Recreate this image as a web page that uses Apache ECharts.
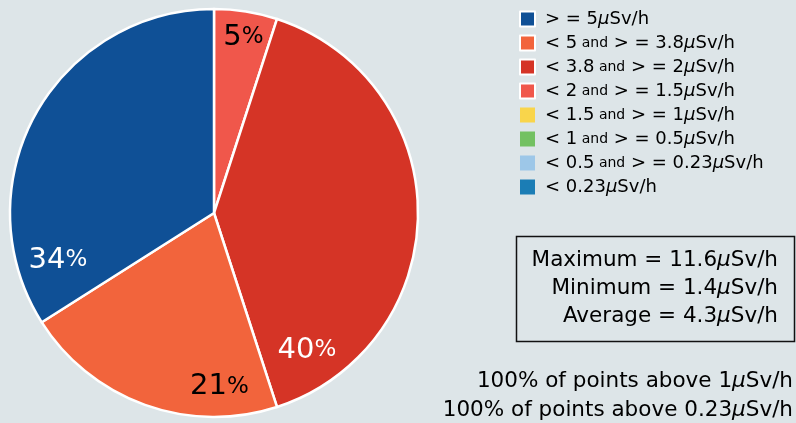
<!DOCTYPE html>
<html>
<head>
<meta charset="utf-8">
<style>
  html, body { margin: 0; padding: 0; background: #dde5e8; }
  #chart-container { width: 796px; height: 423px; }
</style>
<script src="https://cdn.jsdelivr.net/npm/echarts@6/dist/echarts.min.js"></script>
</head>
<body>
<div id="chart-container"></div>
<script>
// legend order (top to bottom)
var categories = [
  '> = 5μSv/h',
  '< 5 and > = 3.8μSv/h',
  '< 3.8 and > = 2μSv/h',
  '< 2 and > = 1.5μSv/h',
  '< 1.5 and > = 1μSv/h',
  '< 1 and > = 0.5μSv/h',
  '< 0.5 and > = 0.23μSv/h',
  '< 0.23μSv/h'
];
var colors = ['#0f5096', '#f2643c', '#d53426', '#f0574b', '#f9d54b', '#73c162', '#9dc7e8', '#1b7db5'];
var percents = [34, 21, 40, 5, 0, 0, 0, 0];
// slices are drawn clockwise from the top in this order
var drawOrder = [3, 2, 1, 0, 4, 5, 6, 7];
var labelColors = ['#ffffff', '#000000', '#ffffff', '#000000'];
// nudges from the default inside position, to match the original label spots
var labelOffsets = [[-64, 98], [41, 75], [-12, 137], [13, -72]];

var statLines = ['Maximum = 11.6μSv/h', 'Minimum = 1.4μSv/h', 'Average = 4.3μSv/h'];
var noteLines = ['100% of points above 1μSv/h', '100% of points above 0.23μSv/h'];

var dom = document.getElementById('chart-container');
var myChart = echarts.init(dom, null, { renderer: 'canvas' });

function mu(s) {
  return s.replace(/μ/g, '{mu|μ}');
}

var pieData = drawOrder.map(function (i) {
  var item = {
    name: categories[i],
    value: percents[i],
    itemStyle: { color: colors[i] }
  };
  if (percents[i] === 0) {
    item.itemStyle.borderWidth = 0;
    item.label = { show: false };
  } else {
    item.label = { color: labelColors[i], offset: labelOffsets[i] };
  }
  return item;
});

var textFont = 'DejaVu Sans, Verdana, sans-serif';

var graphics = [{
  type: 'rect',
  shape: { x: 516.5, y: 236.5, width: 278, height: 105 },
  style: { fill: 'none', stroke: '#111', lineWidth: 1.5 }
}];
statLines.forEach(function (t, k) {
  graphics.push({
    type: 'text',
    x: 778, y: 260 + k * 28,
    style: {
      text: mu(t), align: 'right', verticalAlign: 'middle',
      font: '21.5px ' + textFont, fill: '#000',
      rich: { mu: { fontStyle: 'italic', fontSize: 21.5, fontFamily: textFont } }
    }
  });
});
noteLines.forEach(function (t, k) {
  graphics.push({
    type: 'text',
    x: 793, y: 381 + k * 29,
    style: {
      text: mu(t), align: 'right', verticalAlign: 'middle',
      font: '21.5px ' + textFont, fill: '#000',
      rich: { mu: { fontStyle: 'italic', fontSize: 21.5, fontFamily: textFont } }
    }
  });
});

var option = {
  backgroundColor: '#dde5e8',
  animation: false,
  legend: {
    orient: 'vertical',
    left: 519,
    top: 10,
    padding: 0,
    itemWidth: 15,
    itemHeight: 15,
    itemGap: 6,
    icon: 'rect',
    data: categories,
    selectedMode: false,
    formatter: function (name) {
      return mu(name.replace(/ and /g, '{a| and} '));
    },
    textStyle: {
      fontFamily: textFont,
      fontSize: 18,
      color: '#000',
      lineHeight: 15,
      padding: [0, 0, 0, 5],
      rich: {
        a: { fontSize: 14, fontFamily: textFont, color: '#000', lineHeight: 15 },
        mu: { fontSize: 18, fontStyle: 'italic', fontFamily: textFont, color: '#000', lineHeight: 15 }
      }
    }
  },
  series: [{
    type: 'pie',
    center: [214, 213],
    radius: 204,
    startAngle: 90,
    clockwise: true,
    avoidLabelOverlap: false,
    minShowLabelAngle: 0,
    itemStyle: { borderColor: '#ffffff', borderWidth: 2.5 },
    emphasis: { disabled: true },
    labelLine: { show: false },
    label: {
      show: true,
      position: 'inside',
      formatter: function (p) {
        return '{n|' + p.value + '}{p|%}';
      },
      rich: {
        n: { fontSize: 29, fontFamily: textFont },
        p: { fontSize: 23, fontFamily: textFont }
      }
    },
    data: pieData
  }],
  graphic: graphics
};

myChart.setOption(option);
window.addEventListener('resize', myChart.resize);
</script>
</body>
</html>
